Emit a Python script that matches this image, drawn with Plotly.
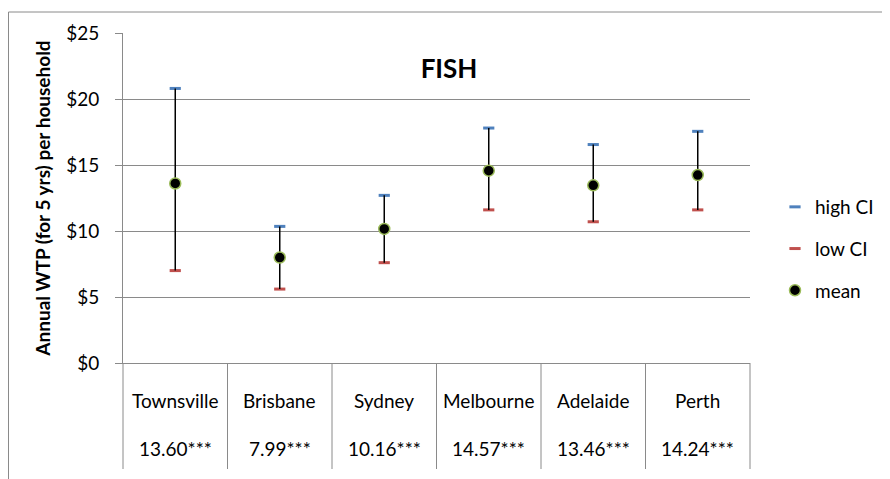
import plotly.graph_objects as go

# ---- data ----
categories = ["Townsville", "Brisbane", "Sydney", "Melbourne", "Adelaide", "Perth"]
mean_wtp = [13.60, 7.99, 10.16, 14.57, 13.46, 14.24]
high_ci = [20.8, 10.35, 12.7, 17.8, 16.55, 17.55]
low_ci = [7.0, 5.6, 7.6, 11.6, 10.7, 11.6]
significance = ["***", "***", "***", "***", "***", "***"]
y_ticks = [0, 5, 10, 15, 20, 25]

FONT = "Lato, 'Noto Sans', sans-serif"
GRID = "#8a8a8a"

# ---- pixel layout (targets given in page pixels; page body has an 8px margin) ----
W, H = 890, 479
OFF = 8
PLOT_L, PLOT_R, PLOT_T, PLOT_B = 123, 750, 33, 363   # page pixels
L, T = PLOT_L - OFF, PLOT_T - OFF
R, B = W - (PLOT_R - OFF), H - (PLOT_B - OFF)
PW, PH = PLOT_R - PLOT_L, PLOT_B - PLOT_T


def px_x(px):
    return (px - PLOT_L) / PW


def px_y(py):
    return (PLOT_B - py) / PH


fig = go.Figure()

fig.add_trace(go.Scatter(
    x=categories, y=high_ci, mode="markers", name="high CI",
    legendgroup="a",
    marker=dict(symbol="line-ew", size=8, line=dict(color="#4f81bd", width=3)),
))
fig.add_trace(go.Scatter(
    x=categories, y=low_ci, mode="markers", name="low CI",
    legendgroup="b",
    marker=dict(symbol="line-ew", size=8, line=dict(color="#c0504d", width=3)),
))
fig.add_trace(go.Scatter(
    x=categories, y=mean_wtp, mode="markers", name="mean",
    legendgroup="c",
    marker=dict(symbol="circle", size=11, color="black",
                line=dict(color="#9bbb59", width=1.5)),
    error_y=dict(type="data", symmetric=False,
                 array=[h - m for h, m in zip(high_ci, mean_wtp)],
                 arrayminus=[m - l for m, l in zip(mean_wtp, low_ci)],
                 color="black", thickness=1.5, width=0),
))

shapes = []
# outer chart border (left and top visible)
shapes.append(dict(type="rect", xref="paper", yref="paper",
                   x0=px_x(OFF + 0.5), x1=px_x(W + 60), y0=px_y(12), y1=px_y(H + 60),
                   line=dict(color=GRID, width=1), fillcolor="rgba(0,0,0,0)", layer="below"))
# category table vertical lines
n = len(categories)
for i in range(n + 1):
    shapes.append(dict(type="line", xref="paper", yref="paper",
                       x0=i / n, x1=i / n, y0=0, y1=px_y(469),
                       line=dict(color=GRID, width=1)))

annotations = []
for c, m, s in zip(categories, mean_wtp, significance):
    annotations.append(dict(x=c, xref="x", y=px_y(400), yref="paper",
                            text=c, showarrow=False, xanchor="center", yanchor="middle",
                            font=dict(family=FONT, size=19, color="black")))
    annotations.append(dict(x=c, xref="x", y=px_y(448), yref="paper",
                            text=f"{m:.2f}{s}", showarrow=False, xanchor="center", yanchor="middle",
                            font=dict(family=FONT, size=19, color="black")))

fig.update_layout(
    width=W, height=H, autosize=False,
    margin=dict(l=L, r=R, t=T, b=B, pad=0),
    paper_bgcolor="white", plot_bgcolor="white",
    font=dict(family=FONT, size=19, color="black"),
    title=dict(text="<b>FISH</b>", x=px_x(449), y=px_y(69), xref="paper", yref="paper",
               xanchor="center", yanchor="middle",
               font=dict(family=FONT, size=26, color="black")),
    xaxis=dict(type="category", range=[-0.5, n - 0.5], showticklabels=False,
               showgrid=False, zeroline=False, showline=True, linecolor=GRID, linewidth=1,
               ticks="", automargin=False),
    yaxis=dict(range=[0, 25], tickvals=y_ticks, ticktext=[f"${v}" for v in y_ticks],
               showgrid=True, gridcolor=GRID, gridwidth=1, zeroline=False,
               showline=True, linecolor=GRID, linewidth=1, automargin=False,
               ticks="outside", ticklen=7, tickcolor=GRID, ticklabelstandoff=12,
               tickfont=dict(family=FONT, size=19, color="black"),
               title=dict(text="<b>Annual WTP (for 5 yrs) per household</b>", standoff=10,
                          font=dict(family=FONT, size=19, color="black"))),
    legend=dict(x=px_x(775), y=px_y(249), xanchor="left", yanchor="middle",
                traceorder="grouped", tracegroupgap=14, itemwidth=30,
                font=dict(family=FONT, size=19, color="black"),
                bgcolor="rgba(0,0,0,0)"),
    shapes=shapes,
    annotations=annotations,
)

fig.write_html("out.html")
